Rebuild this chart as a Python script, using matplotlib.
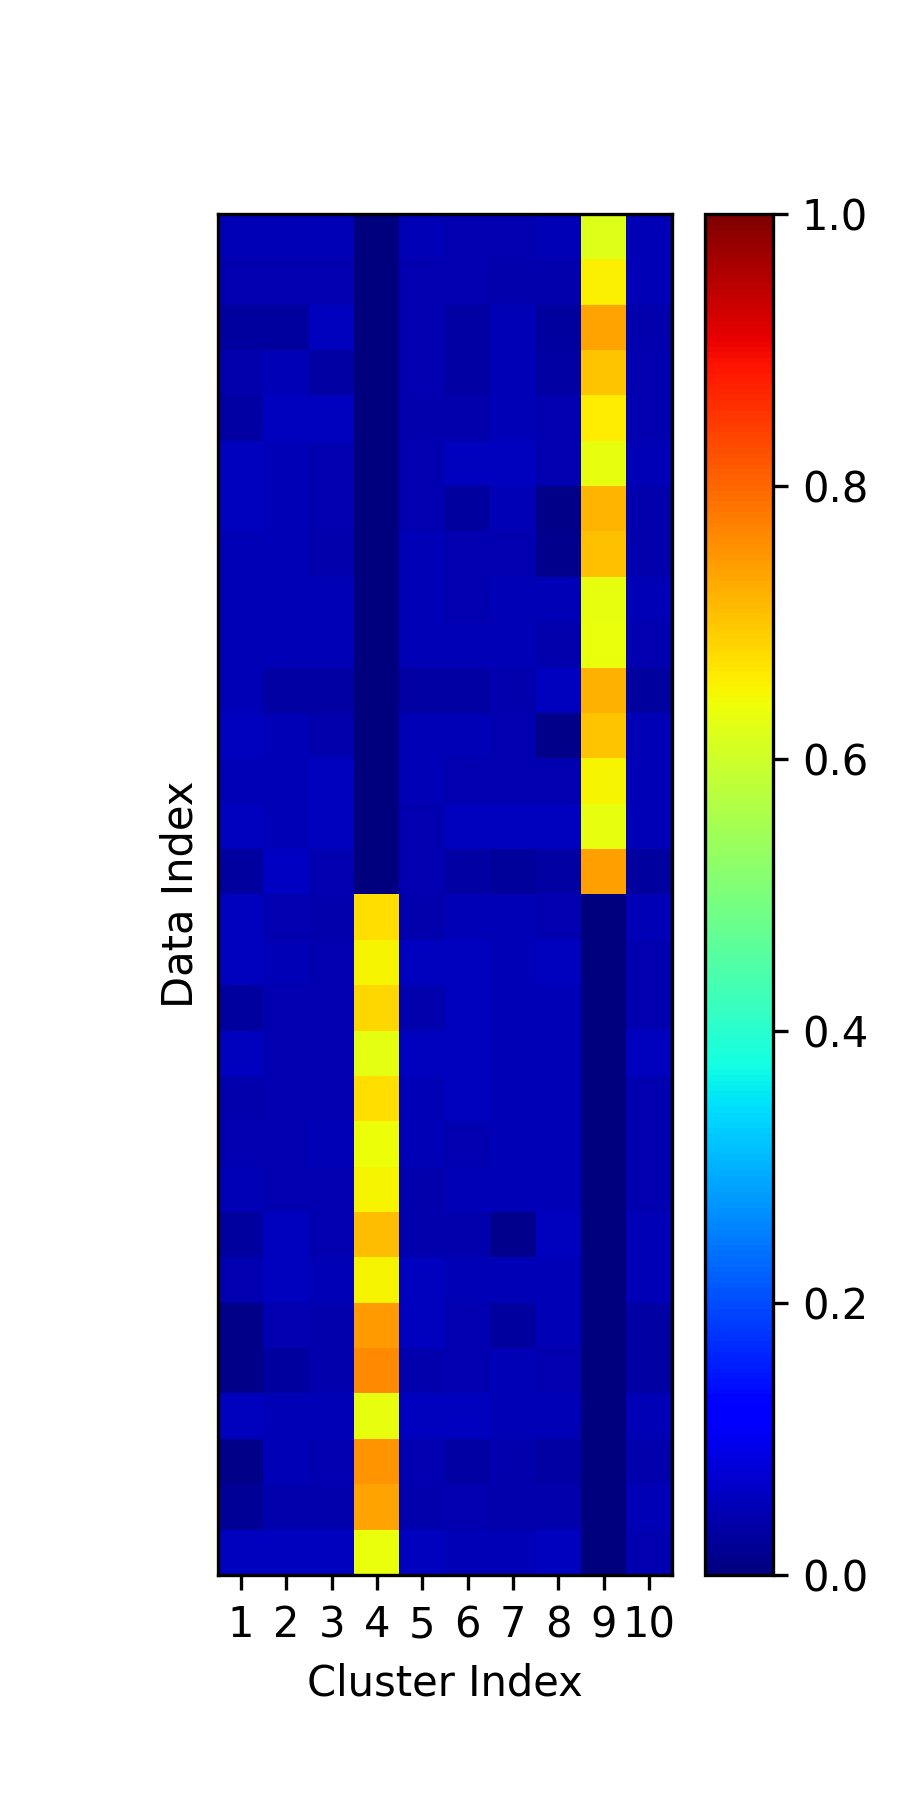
import numpy as np
import matplotlib
matplotlib.use('Agg')
import matplotlib.pyplot as plt

# membership values, one list per cluster (30 data points each)
c1 = [0.05, 0.045, 0.03, 0.04, 0.035, 0.055, 0.055, 0.05, 0.05, 0.05,
      0.05, 0.055, 0.05, 0.055, 0.03, 0.055, 0.055, 0.03, 0.055, 0.04,
      0.045, 0.05, 0.03, 0.045, 0.01, 0.01, 0.055, 0.01, 0.02, 0.055]
c2 = [0.05, 0.045, 0.03, 0.05, 0.055, 0.05, 0.05, 0.05, 0.05, 0.05,
      0.035, 0.05, 0.05, 0.05, 0.06, 0.045, 0.05, 0.045, 0.045, 0.045,
      0.045, 0.045, 0.055, 0.055, 0.045, 0.03, 0.05, 0.05, 0.04, 0.055]
c3 = [0.05, 0.045, 0.055, 0.035, 0.055, 0.045, 0.045, 0.04, 0.05, 0.05,
      0.035, 0.04, 0.055, 0.055, 0.045, 0.04, 0.045, 0.045, 0.045, 0.045,
      0.05, 0.045, 0.045, 0.05, 0.04, 0.04, 0.05, 0.045, 0.04, 0.055]
c4 = [0.003, 0.003, 0.003, 0.003, 0.003, 0.003, 0.003, 0.003, 0.003, 0.003,
      0.003, 0.003, 0.003, 0.003, 0.003, 0.675, 0.65, 0.68, 0.625, 0.675,
      0.64, 0.65, 0.71, 0.65, 0.745, 0.765, 0.63, 0.75, 0.735, 0.635]
c5 = [0.05, 0.045, 0.045, 0.045, 0.04, 0.045, 0.045, 0.05, 0.05, 0.05,
      0.035, 0.05, 0.05, 0.045, 0.045, 0.04, 0.055, 0.04, 0.055, 0.05,
      0.05, 0.04, 0.04, 0.055, 0.055, 0.04, 0.055, 0.045, 0.04, 0.055]
c6 = [0.045, 0.045, 0.035, 0.035, 0.04, 0.055, 0.03, 0.045, 0.045, 0.05,
      0.035, 0.05, 0.045, 0.055, 0.035, 0.05, 0.055, 0.055, 0.055, 0.055,
      0.045, 0.05, 0.04, 0.05, 0.045, 0.045, 0.055, 0.035, 0.045, 0.05]
c7 = [0.045, 0.04, 0.05, 0.05, 0.05, 0.055, 0.05, 0.045, 0.05, 0.05,
      0.04, 0.045, 0.045, 0.055, 0.025, 0.05, 0.05, 0.05, 0.05, 0.05,
      0.05, 0.05, 0.015, 0.05, 0.03, 0.05, 0.05, 0.04, 0.04, 0.05]
c8 = [0.05, 0.04, 0.03, 0.035, 0.045, 0.045, 0.01, 0.015, 0.05, 0.04,
      0.055, 0.01, 0.045, 0.055, 0.035, 0.045, 0.055, 0.05, 0.05, 0.05,
      0.05, 0.05, 0.055, 0.05, 0.05, 0.045, 0.05, 0.035, 0.04, 0.055]
c9 = [0.62, 0.655, 0.735, 0.70, 0.66, 0.63, 0.715, 0.705, 0.63, 0.635,
      0.72, 0.70, 0.65, 0.63, 0.74, 0.003, 0.003, 0.003, 0.003, 0.003,
      0.003, 0.003, 0.003, 0.003, 0.003, 0.003, 0.003, 0.003, 0.003, 0.003]
c10 = [0.05, 0.05, 0.04, 0.045, 0.045, 0.05, 0.04, 0.04, 0.05, 0.045,
       0.03, 0.05, 0.05, 0.05, 0.03, 0.05, 0.045, 0.045, 0.055, 0.045,
       0.045, 0.045, 0.05, 0.05, 0.035, 0.035, 0.05, 0.04, 0.05, 0.045]

cluster_labels = ['1', '2', '3', '4', '5', '6', '7', '8', '9', '10']

u = np.array([c1, c2, c3, c4, c5, c6, c7, c8, c9, c10]).T

fig = plt.figure(figsize=(3, 6), dpi=300)
ax = fig.add_axes([0.242, 0.125, 0.505, 0.756])
cax = fig.add_axes([0.783, 0.125, 0.0756, 0.756])

im = ax.imshow(u, cmap='jet', vmin=0, vmax=1, aspect='equal', interpolation='nearest')
ax.set_xticks(np.arange(10))
ax.set_xticklabels(cluster_labels)
ax.set_yticks([])
ax.set_xlabel('Cluster Index')
ax.set_ylabel('Data Index')

fig.colorbar(im, cax=cax)

plt.savefig('out.png', dpi=300)
